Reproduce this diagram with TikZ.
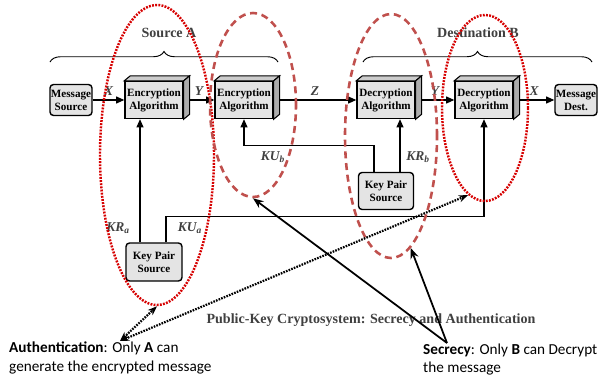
\documentclass[tikz,border=0pt]{standalone}
\usepackage{fontspec}
\setmainfont{Liberation Serif}
\newfontfamily\notefont{Carlito}
\usetikzlibrary{arrows.meta,calc,shapes.geometric,decorations.pathreplacing}
\definecolor{dotred}{RGB}{214,0,0}
\definecolor{dashred}{RGB}{192,80,77}
\definecolor{facegray}{RGB}{228,228,228}
\newcommand{\cubeface}[1]{%
\filldraw[fill=gray!40,line width=0.9pt] (#1.north west) -- ++(6,-5) -- ($(#1.north east)+(6,-5)$) -- (#1.north east) -- cycle;
\filldraw[fill=gray!65,line width=0.9pt] (#1.north east) -- ++(6,-5) -- ($(#1.south east)+(6,-5)$) -- (#1.south east) -- cycle;}

\begin{document}
\begin{tikzpicture}[x=0.03cm,y=-0.03cm,
  algbox/.style={draw,line width=1.2pt,fill=facegray,minimum width=1.74cm,minimum height=1.11cm,inner sep=0pt,align=center,font=\fontsize{9.5}{11}\selectfont\bfseries},
  roundbox/.style={draw,line width=1.2pt,fill=facegray,rounded corners=3pt,inner sep=0pt,align=center,font=\fontsize{9.5}{11}\selectfont\bfseries},
  arr/.style={line width=0.9pt,-{Triangle[length=7pt,width=6pt]}},
  keylbl/.style={inner sep=0pt,font=\fontsize{11.5}{13}\selectfont\bfseries\itshape,text=black!75},
  titlelbl/.style={inner sep=0pt,font=\fontsize{12}{14}\selectfont\bfseries,text=black!75},
  dotring/.style={ellipse,draw=dotred,line width=2.1pt,dash pattern=on 1.6pt off 1.1pt,inner sep=0pt},
  dashring/.style={ellipse,draw=dashred,line width=2.2pt,dash pattern=on 6pt off 4pt,inner sep=0pt},
  notetxt/.style={inner sep=0pt,align=left,font=\notefont\fontsize{13}{15.5}\selectfont},
  dotarr/.style={line width=1.9pt,dash pattern=on 1.4pt off 1pt,{Stealth[length=8pt,width=6pt]}-{Stealth[length=8pt,width=6pt]}},
  secarr/.style={line width=1.5pt,-{Stealth[length=9pt,width=7pt]}}]
\useasboundingbox (0,0) rectangle (605,381);
\node[roundbox,minimum width=1.26cm,minimum height=0.93cm] (msrc) at (71,100) {Message\\Source};
\node[algbox] (enc1) at (154,100) {Encryption\\Algorithm};
\node[algbox] (enc2) at (244,100) {Encryption\\Algorithm};
\node[algbox] (dec1) at (386,100) {Decryption\\Algorithm};
\node[algbox] (dec2) at (484,100) {Decryption\\Algorithm};
\node[roundbox,minimum width=1.26cm,minimum height=0.93cm] (mdst) at (576,100) {Message\\Dest.};
\node[roundbox,minimum width=1.68cm,minimum height=1.14cm] (kpa) at (154,262) {Key Pair\\Source};
\node[roundbox,minimum width=1.65cm,minimum height=1.11cm] (kpb) at (386,191) {Key Pair\\Source};
\draw[arr] (msrc) -- node[keylbl,above=3pt] {X} (enc1);
\draw[arr] (enc1) -- node[keylbl,above=3pt] {Y} (enc2);
\draw[arr] (enc2) -- node[keylbl,above=3pt] {Z} (dec1);
\draw[arr] (dec1) -- node[keylbl,above=3pt] {Y} (dec2);
\draw[arr] (dec2) -- node[keylbl,above=3pt] {X} (mdst);
\foreach \n in {enc1,enc2,dec1,dec2} {\cubeface{\n}}
\draw[arr] ($(kpa.north)+(-14,0)$) coordinate (kra) -- (kra |- enc1.south);
\draw[arr] ($(kpa.north)+(12,0)$) |- ($(dec2.south)+(0,97)$) -- (dec2.south);
\draw[arr] ($(kpb.north)+(-12,0)$) |- ($(enc2.south)+(0,26)$) -- (enc2.south);
\draw[arr] ($(kpb.north)+(14,0)$) coordinate (krb) -- (krb |- dec1.south);
\node[keylbl] (kralbl) at (118,228) {KR\textsubscript{a}};
\node[keylbl] (kualbl) at (190,228) {KU\textsubscript{a}};
\node[keylbl] (kublbl) at (273,157) {KU\textsubscript{b}};
\node[keylbl] (krblbl) at (418,157) {KR\textsubscript{b}};
\draw[line width=0.8pt,decorate,decoration={brace,amplitude=9pt}] (50,62) -- (278,62);
\draw[line width=0.8pt,decorate,decoration={brace,amplitude=9pt}] (363,62) -- (592,62);
\node[titlelbl] (srca) at (169,33) {Source A};
\node[titlelbl] (dstb) at (478,33) {Destination B};
\node[titlelbl] (cap) at (371,320) {Public-Key Cryptosystem: Secrecy and Authentication};
\node[dotring,minimum width=3.42cm,minimum height=9cm] (authA) at (157,155) {};
\node[dashring,minimum width=2.58cm,minimum height=5.52cm] (secA) at (253,105) {};
\node[dashring,minimum width=2.76cm,minimum height=7.32cm] (secB) at (391,136) {};
\node[dotring,minimum width=2.58cm,minimum height=5.58cm] (authB) at (485,108) {};
\node[notetxt,anchor=north west] (authtxt) at (9,342) {\textbf{Authentication}: Only \textbf{A} can\\generate the encrypted message};
\node[notetxt,anchor=north west] (sectxt) at (423,344) {\textbf{Secrecy}: Only \textbf{B} can Decrypt\\the message};
\coordinate (authpt) at (120,341);
\coordinate (secpt) at (447,343);
\draw[dotarr] (authpt) -- (authA.south);
\draw[dotarr] (authpt) -- (authB.-101);
\draw[secarr] (secpt) -- (secA.south);
\draw[secarr] (secpt) -- (secB.-80);
\end{tikzpicture}
\end{document}
